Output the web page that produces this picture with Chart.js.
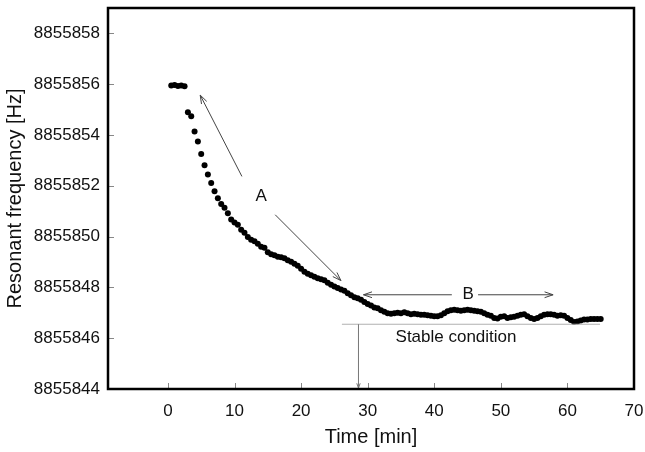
<!DOCTYPE html>
<html><head><meta charset="utf-8">
<script src="https://cdn.jsdelivr.net/npm/chart.js@4.4.1/dist/chart.umd.min.js"></script>
<style>html,body{margin:0;padding:0;background:#fff}#wrap{width:645px;height:452px}</style>
</head><body><div id="wrap"><canvas id="c" width="645" height="452"></canvas></div>
<script>
// ---- data ----
const timeMin = [0.5,1,1.5,2,2.5,3,3.5,4,4.5,5,5.5,6,6.5,7,7.5,8,8.5,9,9.5,10,
  10.5,11,11.5,12,12.5,13,13.5,14,14.5,15,15.5,16,16.5,17,17.5,18,18.5,19,19.5,20,
  20.5,21,21.5,22,22.5,23,23.5,24,24.5,25,25.5,26,26.5,27,27.5,28,28.5,29,29.5,30,
  30.5,31,31.5,32,32.5,33,33.5,34,34.5,35,35.5,36,36.5,37,37.5,38,38.5,39,39.5,40,
  40.5,41,41.5,42,42.5,43,43.5,44,44.5,45,45.5,46,46.5,47,47.5,48,48.5,49,49.5,50,
  50.5,51,51.5,52,52.5,53,53.5,54,54.5,55,55.5,56,56.5,57,57.5,58,58.5,59,59.5,60,
  60.5,61,61.5,62,62.5,63,63.5,64,64.5,65];
const freqHz = [8855855.95,8855855.97,8855855.93,8855855.95,8855855.92,8855854.90,8855854.74,8855854.14,8855853.74,8855853.25,
  8855852.81,8855852.44,8855852.11,8855851.79,8855851.51,8855851.28,8855851.14,8855850.92,8855850.67,8855850.56,
  8855850.47,8855850.27,8855850.15,8855849.98,8855849.88,8855849.82,8855849.72,8855849.60,8855849.56,8855849.38,
  8855849.31,8855849.27,8855849.21,8855849.19,8855849.15,8855849.07,8855849.01,8855848.93,8855848.85,8855848.73,
  8855848.62,8855848.54,8855848.48,8855848.42,8855848.36,8855848.32,8855848.28,8855848.18,8855848.10,8855848.04,
  8855847.98,8855847.92,8855847.87,8855847.77,8855847.69,8855847.61,8855847.57,8855847.51,8855847.43,8855847.35,
  8855847.29,8855847.21,8855847.18,8855847.10,8855847.04,8855846.98,8855846.96,8855846.98,8855847.00,8855846.98,
  8855847.02,8855846.98,8855846.94,8855846.96,8855846.94,8855846.92,8855846.92,8855846.90,8855846.88,8855846.86,
  8855846.86,8855846.90,8855846.98,8855847.06,8855847.10,8855847.12,8855847.10,8855847.08,8855847.10,8855847.12,
  8855847.10,8855847.08,8855847.06,8855847.04,8855846.98,8855846.92,8855846.88,8855846.80,8855846.78,8855846.84,
  8855846.86,8855846.80,8855846.82,8855846.84,8855846.88,8855846.92,8855846.94,8855846.86,8855846.80,8855846.76,
  8855846.80,8855846.86,8855846.92,8855846.94,8855846.94,8855846.92,8855846.88,8855846.90,8855846.88,8855846.80,
  8855846.72,8855846.64,8855846.66,8855846.70,8855846.74,8855846.74,8855846.76,8855846.76,8855846.76,8855846.76];
const xTickValues = [0,10,20,30,40,50,60,70];
const yTickValues = [8855844,8855846,8855848,8855850,8855852,8855854,8855856,8855858];
const xRange = [-9, 70];
const yRange = [8855844, 8855859];
const xTitle = 'Time [min]';
const yTitle = 'Resonant frequency [Hz]';

// annotations (in data units)
const arrowLines = [
  [[11.11, 8855852.37], [4.85, 8855855.57]],
  [[16.11, 8855850.86], [25.98, 8855848.27]],
  [[42.64, 8855847.71], [29.37, 8855847.71]],
  [[46.58, 8855847.71], [57.85, 8855847.71]]
];
const stableLine = [[26.13, 8855846.55], [64.9, 8855846.55]];
const stableDrop = [[28.62, 8855846.55], [28.62, 8855844]];
const labels = [
  {text: 'A', at: [14.0, 8855851.57]},
  {text: 'B', at: [45.1, 8855847.71]},
  {text: 'Stable condition', at: [43.27, 8855846.04]}
];

const FONT = '"Liberation Sans", Arial, Helvetica, sans-serif';

function head(ctx, x1, y1, x2, y2, len, ang) {
  const a = Math.atan2(y2 - y1, x2 - x1);
  ctx.beginPath();
  ctx.moveTo(x2 - len * Math.cos(a - ang), y2 - len * Math.sin(a - ang));
  ctx.lineTo(x2, y2);
  ctx.lineTo(x2 - len * Math.cos(a + ang), y2 - len * Math.sin(a + ang));
  ctx.stroke();
}

const decor = {
  id: 'decor',
  afterDatasetsDraw(chart) {
    const {ctx, chartArea: ca, scales: {x, y}} = chart;
    const px = p => [x.getPixelForValue(p[0]), y.getPixelForValue(p[1])];
    ctx.save();
    // inner tick marks
    ctx.strokeStyle = '#888'; ctx.lineWidth = 1;
    xTickValues.forEach(v => {
      const xx = Math.round(x.getPixelForValue(v)) + 0.5;
      ctx.beginPath(); ctx.moveTo(xx, ca.bottom); ctx.lineTo(xx, ca.bottom - 6); ctx.stroke();
    });
    yTickValues.forEach(v => {
      const yy = Math.round(y.getPixelForValue(v)) + 0.5;
      ctx.beginPath(); ctx.moveTo(ca.left, yy); ctx.lineTo(ca.left + 6, yy); ctx.stroke();
    });
    // stable line
    ctx.strokeStyle = '#b0b0b0'; ctx.lineWidth = 1.2;
    let a = px(stableLine[0]), b = px(stableLine[1]);
    ctx.beginPath(); ctx.moveTo(a[0], a[1]); ctx.lineTo(b[0], b[1]); ctx.stroke();
    ctx.strokeStyle = '#777'; ctx.lineWidth = 1;
    a = px(stableDrop[0]); b = px(stableDrop[1]);
    ctx.beginPath(); ctx.moveTo(a[0], a[1]); ctx.lineTo(b[0], b[1]); ctx.stroke();
    head(ctx, a[0], a[1], b[0], b[1] - 1, 5, 0.35);
    // arrows
    ctx.strokeStyle = '#444'; ctx.lineWidth = 1;
    arrowLines.forEach(l => {
      const p = px(l[0]), q = px(l[1]);
      ctx.beginPath(); ctx.moveTo(p[0], p[1]); ctx.lineTo(q[0], q[1]); ctx.stroke();
      head(ctx, p[0], p[1], q[0], q[1], 9, 0.33);
    });
    // text
    ctx.fillStyle = '#111';
    ctx.font = '17px ' + FONT;
    ctx.textAlign = 'center'; ctx.textBaseline = 'middle';
    labels.forEach(t => { const p = px(t.at); ctx.fillText(t.text, p[0], p[1]); });
    // frame
    ctx.strokeStyle = '#000'; ctx.lineWidth = 2.5;
    ctx.strokeRect(ca.left, ca.top, ca.right - ca.left, ca.bottom - ca.top);
    ctx.restore();
  }
};

new Chart(document.getElementById('c'), {
  type: 'scatter',
  data: {
    datasets: [{
      data: timeMin.map((t, i) => ({x: t, y: freqHz[i]})),
      backgroundColor: '#000', borderColor: '#000',
      pointRadius: 3, pointBorderWidth: 0, pointHoverRadius: 3
    }]
  },
  options: {
    responsive: false, animation: false, devicePixelRatio: 1,
    layout: {padding: {top: 8, right: 11, left: 0, bottom: 0}},
    plugins: {legend: {display: false}, tooltip: {enabled: false}},
    scales: {
      x: {
        type: 'linear', min: xRange[0], max: xRange[1],
        afterBuildTicks: ax => { ax.ticks = xTickValues.map(v => ({value: v})); },
        afterFit: ax => { ax.height = 63; ax.paddingLeft = 0; ax.paddingRight = 0; },
        grid: {display: false, drawTicks: false},
        border: {display: false},
        ticks: {color: '#111', padding: 12, maxRotation: 0, font: {family: FONT, size: 17}, callback: v => String(v)},
        title: {display: true, text: xTitle, color: '#111', font: {family: FONT, size: 20}, padding: {top: 0, bottom: 3}}
      },
      y: {
        type: 'linear', min: yRange[0], max: yRange[1],
        afterBuildTicks: ax => { ax.ticks = yTickValues.map(v => ({value: v})); },
        afterFit: ax => { ax.width = 108; ax.paddingTop = 0; ax.paddingBottom = 0; },
        grid: {display: false, drawTicks: false},
        border: {display: false},
        ticks: {color: '#111', padding: 8, font: {family: FONT, size: 17}, callback: v => String(v)},
        title: {display: true, text: yTitle, color: '#111', font: {family: FONT, size: 20}, padding: {top: 3, bottom: 0}}
      }
    }
  },
  plugins: [decor]
});
</script></body></html>
